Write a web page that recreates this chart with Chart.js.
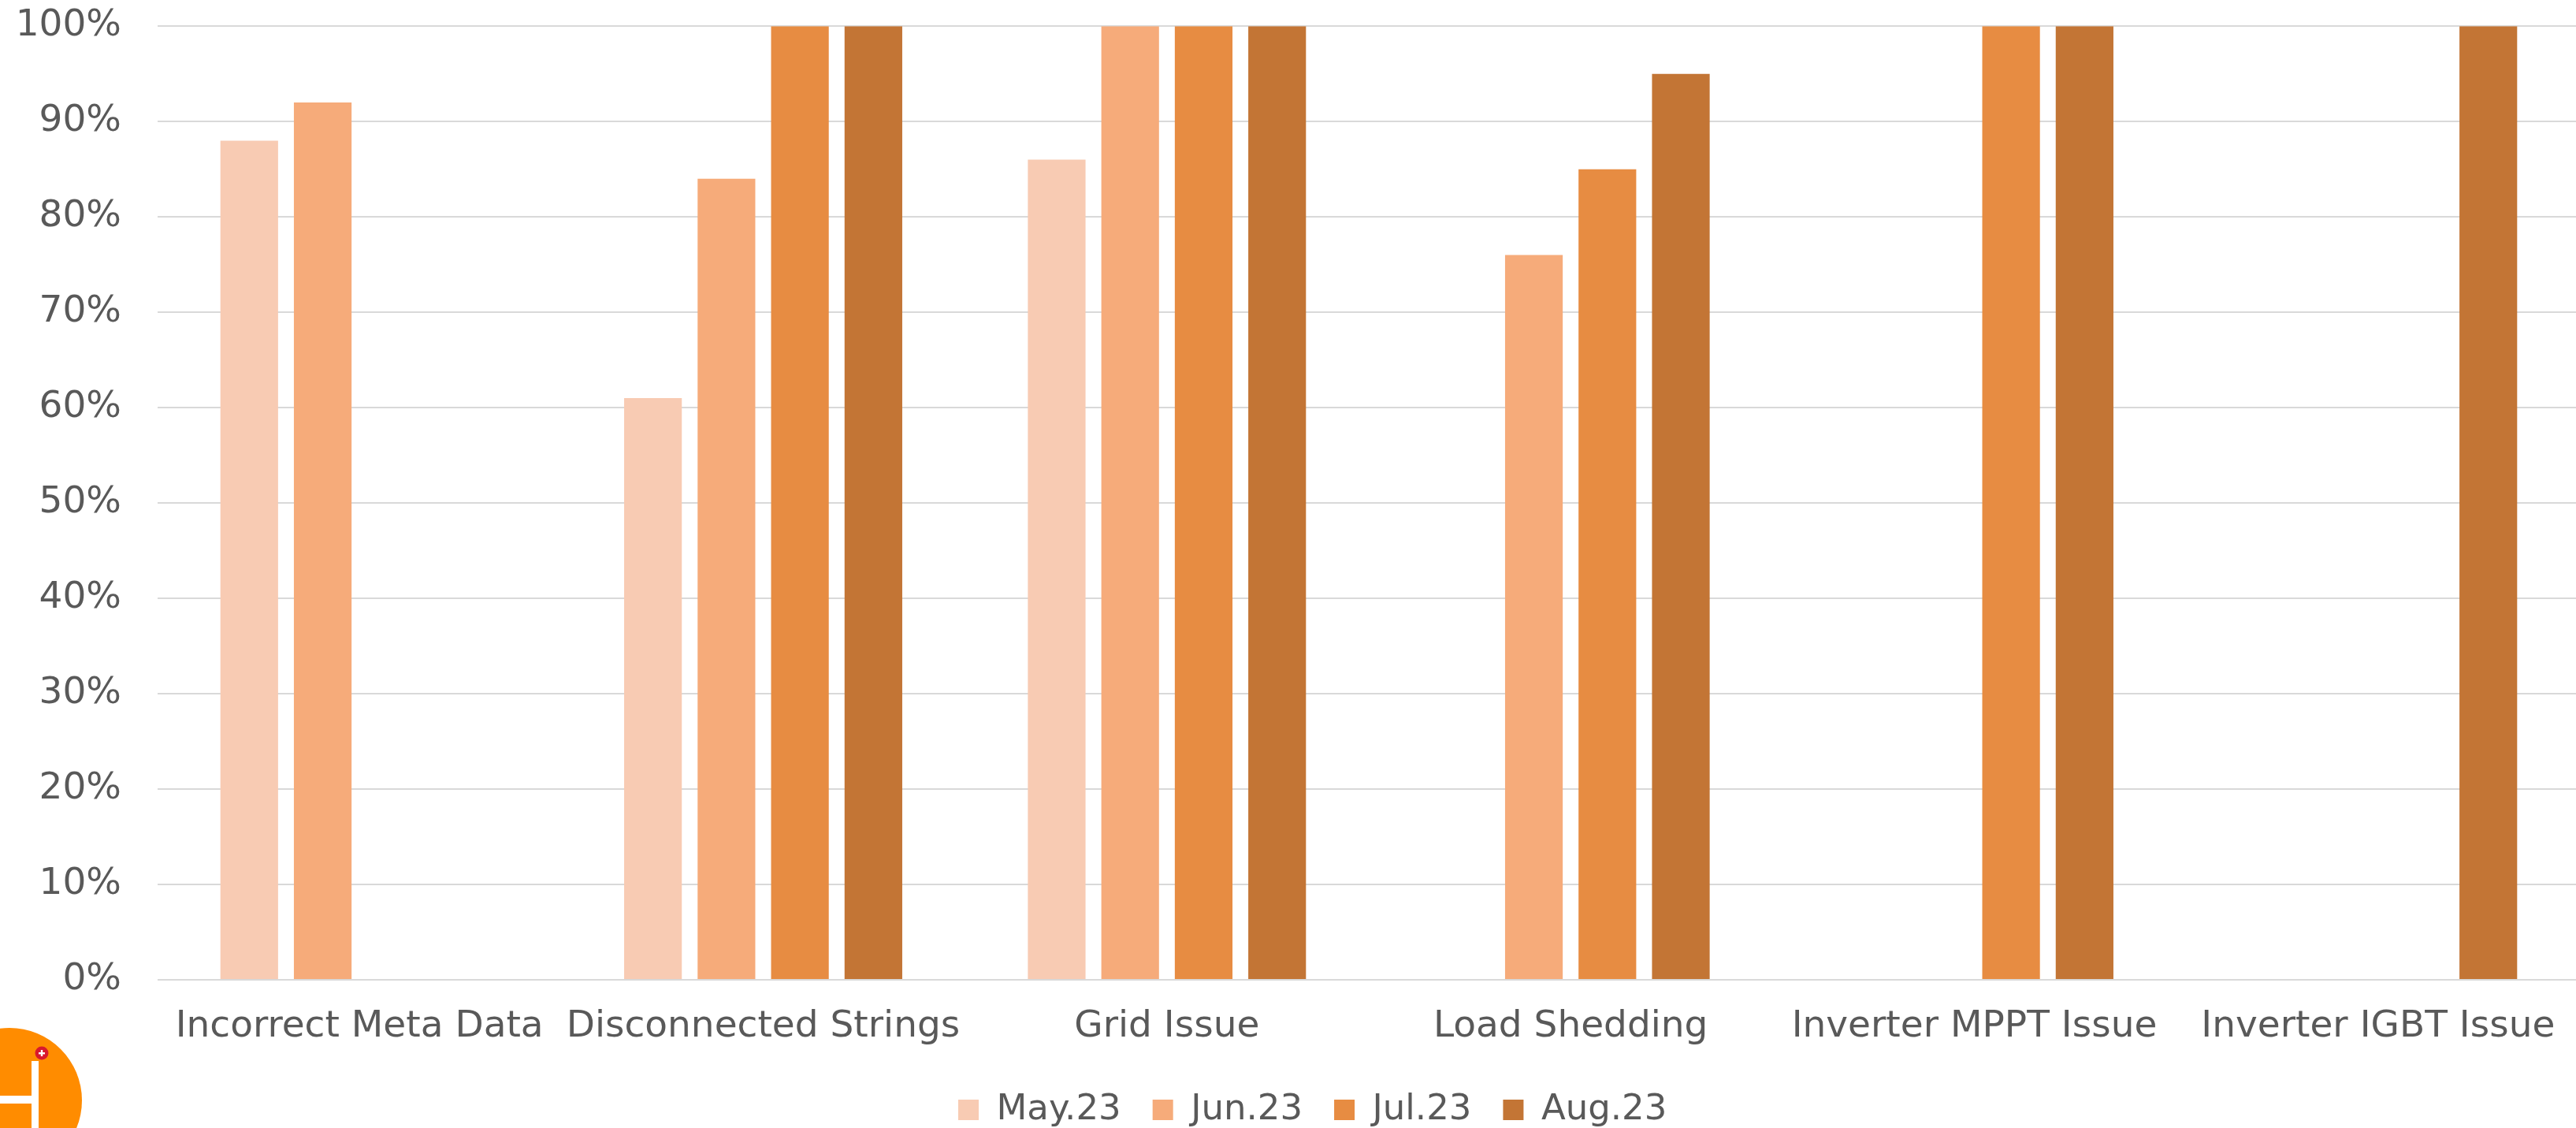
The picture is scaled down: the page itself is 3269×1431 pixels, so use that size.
<!DOCTYPE html>
<html>
<head>
<meta charset="utf-8">
<title>Issue resolution by month</title>
<script src="https://cdn.jsdelivr.net/npm/chart.js@4.4.1/dist/chart.umd.min.js"></script>
<style>
  html, body { margin: 0; padding: 0; background: #ffffff; overflow: hidden; }
  #wrap { position: absolute; left: 0; top: 0; width: 3280px; height: 1431px; }
</style>
</head>
<body>
<div id="wrap"><canvas id="chart" width="3280" height="1431"></canvas></div>
<script>
// Issue categories along the x axis
const categories = [
  'Incorrect Meta Data',
  'Disconnected Strings',
  'Grid Issue',
  'Load Shedding',
  'Inverter MPPT Issue',
  'Inverter IGBT Issue'
];

// Monthly series (percent); null = no bar for that month
const seriesNames = ['May.23', 'Jun.23', 'Jul.23', 'Aug.23'];
const may23 = [88, 61, 86, null, null, null];
const jun23 = [92, 84, 100, 76, null, null];
const jul23 = [null, 100, 100, 85, 100, null];
const aug23 = [null, 100, 100, 95, 100, 100];

// Y axis ticks
const yTicks = [0, 10, 20, 30, 40, 50, 60, 70, 80, 90, 100];

const seriesColors = ['#F8CBB3', '#F6AB7A', '#E78C42', '#C37535'];
const textColor = '#595959';
const fontFamily = '"DejaVu Sans", sans-serif';

const PLOT_BOTTOM = 1243;   // pixel row of the 0% line
const CANVAS_H = 1431;
const BOTTOM_PAD = -15;     // legend's lower padding hangs below the canvas edge

// Places the legend row under the axis labels
const legendPlacement = {
  id: 'legendPlacement',
  afterLayout(chart) {
    const lg = chart.legend;
    if (!lg || !lg.lineWidths) return;
    const p = lg.options.labels.padding;
    const fontSize = lg.options.labels.font.size;
    const itemH = Math.max(fontSize, lg.options.labels.boxHeight);
    const startX = (lg.left + p + lg.right - lg.lineWidths[0]) / 2;
    const dx = 1216 - startX;
    const dy = 1408 - (lg.top + p + itemH / 2);
    lg.left += dx; lg.right += dx;
    lg.top += dy; lg.bottom += dy;
  }
};

// Company badge in the lower-left corner
const cornerBadge = {
  id: 'cornerBadge',
  afterDraw(chart) {
    const ctx = chart.ctx;
    ctx.save();
    ctx.fillStyle = '#FF8C00';
    ctx.beginPath();
    ctx.arc(12, 1396, 92, 0, Math.PI * 2);
    ctx.fill();
    ctx.fillStyle = '#FFFFFF';
    ctx.fillRect(40, 1346, 9, 90);
    ctx.fillRect(-10, 1390, 50, 10);
    ctx.fillStyle = '#D9182D';
    ctx.beginPath();
    ctx.arc(53, 1336, 8.5, 0, Math.PI * 2);
    ctx.fill();
    ctx.fillStyle = '#FFFFFF';
    ctx.fillRect(49, 1335, 8, 2.4);
    ctx.fillRect(51.8, 1332, 2.4, 8);
    ctx.restore();
  }
};

const datasets = [may23, jun23, jul23, aug23].map((vals, i) => ({
  label: seriesNames[i],
  data: vals,
  backgroundColor: seriesColors[i],
  borderWidth: 0,
  categoryPercentage: 0.728,
  barPercentage: 0.785
}));

new Chart(document.getElementById('chart'), {
  type: 'bar',
  data: { labels: categories, datasets },
  plugins: [legendPlacement, cornerBadge],
  options: {
    responsive: false,
    devicePixelRatio: 1,
    animation: false,
    layout: { padding: { left: 0, right: 6, top: 33, bottom: BOTTOM_PAD } },
    plugins: {
      tooltip: { enabled: false },
      legend: {
        position: 'bottom',
        labels: {
          boxWidth: 26,
          boxHeight: 26,
          padding: 40,
          color: textColor,
          font: { family: fontFamily, size: 45 }
        }
      }
    },
    scales: {
      x: {
        grid: { display: false, drawTicks: false },
        border: { display: false },
        ticks: {
          color: textColor,
          font: { family: fontFamily, size: 47 },
          padding: 32,
          maxRotation: 0,
          autoSkip: false
        },
        afterFit(scale) {
          const lg = scale.chart.legend;
          const lgH = lg && lg.height ? lg.height : 95;
          scale.height = CANVAS_H - BOTTOM_PAD - PLOT_BOTTOM - lgH;
        }
      },
      y: {
        min: 0,
        max: 100,
        afterBuildTicks(scale) { scale.ticks = yTicks.map(v => ({ value: v })); },
        grid: {
          color: '#D9D9D9',
          lineWidth: 2,
          drawTicks: true,
          tickLength: 41,
          tickColor: 'rgba(0,0,0,0)'
        },
        border: { display: false },
        ticks: {
          color: textColor,
          font: { family: fontFamily, size: 47 },
          padding: 5,
          callback: v => v + '%'
        },
        afterFit(scale) { scale.width = 200; }
      }
    }
  }
});
</script>
</body>
</html>
